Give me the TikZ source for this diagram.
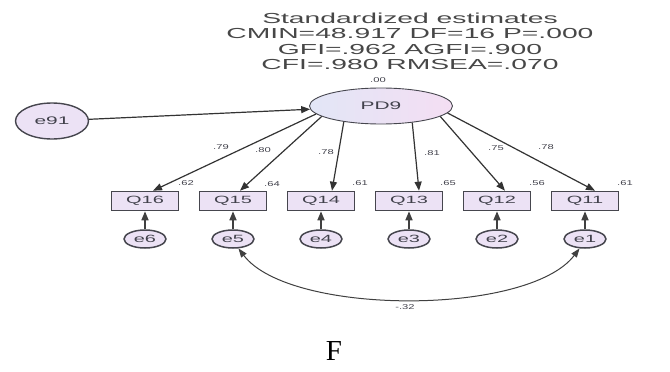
\documentclass[tikz,border=0pt]{standalone}
\usepackage{fontspec}
\usepackage{graphicx}
\setmainfont{Liberation Sans}
\newfontfamily\capfont{Liberation Serif}
\usetikzlibrary{arrows.meta,shapes.geometric}
\newcommand\hs[2]{\scalebox{#1}[1]{#2}}
\definecolor{lav}{RGB}{236,226,245}
\definecolor{lavL}{RGB}{226,230,246}
\definecolor{lavR}{RGB}{244,222,243}
\definecolor{bord}{RGB}{70,70,78}
\definecolor{txt}{RGB}{65,65,75}
\begin{document}
\begin{tikzpicture}[x=1pt,y=-1pt,
  every node/.style={text=txt},
  lat/.style={ellipse, draw=bord, line width=0.9pt, minimum width=143pt, minimum height=36pt, inner sep=0pt, left color=lavL, right color=lavR, font=\fontsize{11}{12}\selectfont},
  ext/.style={ellipse, draw=bord, line width=1.4pt, fill=lav, minimum width=73pt, minimum height=36pt, inner sep=0pt, font=\fontsize{11}{12}\selectfont},
  err/.style={ellipse, draw=bord, line width=1.5pt, fill=lav, minimum width=42pt, minimum height=18pt, inner sep=0pt, font=\fontsize{10.5}{11}\selectfont},
  obs/.style={rectangle, draw=bord, line width=1.6pt, fill=lav, minimum width=67pt, minimum height=19pt, inner sep=0pt, font=\fontsize{10.5}{11}\selectfont},
  ttl/.style={font=\fontsize{14.5}{15}\selectfont, text=black!72, inner sep=0pt},
  lbl/.style={font=\fontsize{7}{8}\selectfont, inner sep=0pt},
  arr/.style={-{Triangle[length=9pt,width=7pt]}, line width=1.2pt, draw=black!80},
  earr/.style={-{Triangle[length=9pt,width=7pt]}, line width=1.6pt, draw=black!75},
  cov/.style={{Triangle[length=9pt,width=6.5pt]}-{Triangle[length=9pt,width=6.5pt]}, line width=1pt, draw=black!75},
]
\useasboundingbox (0,0) rectangle (670,372);
% title
\node[ttl] (t1) at (410,18) {\hs{1.95}{Standardized estimates}};
\node[ttl] (t2) at (410,34) {\hs{1.95}{CMIN=48.917 DF=16 P=.000}};
\node[ttl] (t3) at (410,50) {\hs{1.95}{GFI=.962 AGFI=.900}};
\node[ttl] (t4) at (410,65) {\hs{1.95}{CFI=.980 RMSEA=.070}};
% latent
\node[lat] (PD9) at (381,106) {\hs{1.9}{PD9}};
\node[lbl] (v0) at (378,80) {\hs{1.6}{.00}};
\node[ext] (e91) at (52,121) {\hs{1.9}{e91}};
% observed
\foreach \n/\x in {Q16/145,Q15/233,Q14/321,Q13/409,Q12/497,Q11/585}{
  \node[obs] (\n) at (\x,201) {\hs{1.9}{\n}};
}
\foreach \n/\x in {e6/145,e5/233,e4/321,e3/409,e2/497,e1/585}{
  \node[err] (\n) at (\x,239) {\hs{1.9}{\n}};
}
% arrows
\draw[arr] (e91) -- (PD9);
\draw[arr] (PD9.187) -- ([xshift=8pt]Q16.north);
\draw[arr] (PD9.190) -- ([xshift=7pt]Q15.north);
\draw[arr] (PD9.203) -- ([xshift=11pt]Q14.north);
\draw[arr] (PD9.332) -- ([xshift=10pt]Q13.north);
\draw[arr] (PD9.350) -- ([xshift=8pt]Q12.north);
\draw[arr] (PD9.354) -- ([xshift=10pt]Q11.north);
\foreach \e/\q in {e6/Q16,e5/Q15,e4/Q14,e3/Q13,e2/Q12,e1/Q11}{
  \draw[earr] (\e) -- (\q);
}
\draw[cov] (e5.-60) .. controls (290,316) and (528,316) .. (e1.240);
% labels
\node[lbl] (l16) at (221,147) {\hs{1.6}{.79}};
\node[lbl] (l15) at (263,150) {\hs{1.6}{.80}};
\node[lbl] (l14) at (326,152) {\hs{1.6}{.78}};
\node[lbl] (l13) at (432,153) {\hs{1.6}{.81}};
\node[lbl] (l12) at (496,148) {\hs{1.6}{.75}};
\node[lbl] (l11) at (546,147) {\hs{1.6}{.78}};
\node[lbl] (r16) at (186,183) {\hs{1.6}{.62}};
\node[lbl] (r15) at (272,184) {\hs{1.6}{.64}};
\node[lbl] (r14) at (360,183) {\hs{1.6}{.61}};
\node[lbl] (r13) at (448,183) {\hs{1.6}{.65}};
\node[lbl] (r12) at (537,183) {\hs{1.6}{.56}};
\node[lbl] (r11) at (625,183) {\hs{1.6}{.61}};
\node[lbl] (c51) at (405,307) {\hs{1.6}{-.32}};
\node[font=\capfont\fontsize{29}{30}\selectfont, text=black, inner sep=0pt] (cap) at (334,351) {F};
\end{tikzpicture}
\end{document}
